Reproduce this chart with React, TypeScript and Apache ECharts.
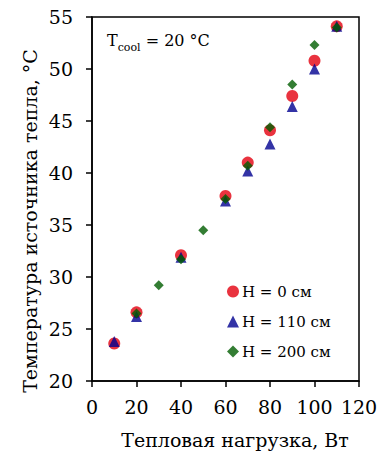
import React, { useEffect, useRef } from "react";
import * as echarts from "echarts";

const loadsH0 = [10, 20, 40, 60, 70, 80, 90, 100, 110];
const tempsH0 = [23.6, 26.6, 32.1, 37.8, 41.0, 44.1, 47.4, 50.8, 54.1];
const loadsH110 = [10, 20, 40, 60, 70, 80, 90, 100, 110];
const tempsH110 = [23.8, 26.2, 31.9, 37.3, 40.2, 42.8, 46.4, 50.0, 54.1];
const loadsH200 = [20, 30, 40, 50, 60, 70, 80, 90, 100, 110];
const tempsH200 = [26.5, 29.2, 31.7, 34.5, 37.5, 40.7, 44.4, 48.5, 52.3, 54.0];
const seriesNames = ["H = 0 см", "H = 110 см", "H = 200 см"];
const xTitle = "Тепловая нагрузка, Вт";
const yTitle = "Температура источника тепла, °С";

const FONT = "DejaVu Serif";

const zip = (xs: number[], ys: number[]) => xs.map((x, i) => [x, ys[i]]);

export default function App() {
  const ref = useRef<HTMLDivElement>(null);
  useEffect(() => {
    if (!ref.current) return;
    const chart = echarts.init(ref.current, undefined, { renderer: "svg" });
    const axisCommon = {
      axisLine: { show: true, lineStyle: { color: "#000", width: 1.5 } },
      axisTick: { show: true, inside: false, length: 6, lineStyle: { color: "#000", width: 1.5 } },
      splitLine: { show: false },
    };
    chart.setOption({
      animation: false,
      backgroundColor: "#fff",
      textStyle: { fontFamily: FONT },
      grid: {
        left: 92,
        top: 17,
        right: 25,
        bottom: 73,
        show: true,
        borderColor: "#000",
        borderWidth: 1.5,
        containLabel: false,
      },
      xAxis: {
        type: "value",
        min: 0,
        max: 120,
        interval: 20,
        ...axisCommon,
        axisLabel: { fontSize: 19, color: "#000", fontFamily: FONT, margin: 16 },
      },
      yAxis: {
        type: "value",
        min: 20,
        max: 55,
        interval: 5,
        ...axisCommon,
        axisLabel: { fontSize: 19, color: "#000", fontFamily: FONT, margin: 19 },
      },
      legend: {
        orient: "vertical",
        left: 222,
        top: 279,
        itemWidth: 12,
        itemHeight: 12,
        itemGap: 15,
        textStyle: { fontSize: 15, color: "#000", fontFamily: FONT, padding: [0, 0, 0, -2] },
        data: [
          { name: seriesNames[0], icon: "circle" },
          { name: seriesNames[1], icon: "triangle" },
          { name: seriesNames[2], icon: "diamond" },
        ],
      },
      graphic: [
        {
          type: "text",
          x: 107,
          y: 27,
          style: {
            text: "{a|T}{b|cool}{a| = 20 °C}",
            verticalAlign: "top",
            fill: "#000",
            rich: {
              a: { fontSize: 16, fontFamily: FONT, lineHeight: 26, verticalAlign: "middle", fill: "#000" },
              b: { fontSize: 11, fontFamily: FONT, lineHeight: 10, verticalAlign: "bottom", fill: "#000" },
            },
          },
        },
        {
          type: "text",
          x: 235,
          y: 440,
          style: {
            text: xTitle,
            fontSize: 19,
            fontFamily: FONT,
            fill: "#000",
            align: "center",
            verticalAlign: "middle",
          },
        },
        {
          type: "text",
          x: 30,
          y: 221,
          rotation: Math.PI / 2,
          style: {
            text: yTitle,
            fontSize: 19,
            fontFamily: FONT,
            fill: "#000",
            align: "center",
            verticalAlign: "middle",
          },
        },
      ],
      series: [
        {
          name: seriesNames[0],
          type: "scatter",
          symbol: "circle",
          symbolSize: 12,
          itemStyle: { color: "#e3000f" },
          data: zip(loadsH0, tempsH0),
        },
        {
          name: seriesNames[1],
          type: "scatter",
          symbol: "triangle",
          symbolSize: [11, 11],
          itemStyle: { color: "#000090" },
          data: zip(loadsH110, tempsH110),
        },
        {
          name: seriesNames[2],
          type: "scatter",
          symbol: "diamond",
          symbolSize: 10,
          itemStyle: { color: "#005c00" },
          data: zip(loadsH200, tempsH200),
        },
      ],
    });
    return () => chart.dispose();
  }, []);
  return (
    <div
      ref={ref}
      style={{ position: "fixed", left: 0, top: 0, width: 384, height: 454, background: "#fff" }}
    />
  );
}
